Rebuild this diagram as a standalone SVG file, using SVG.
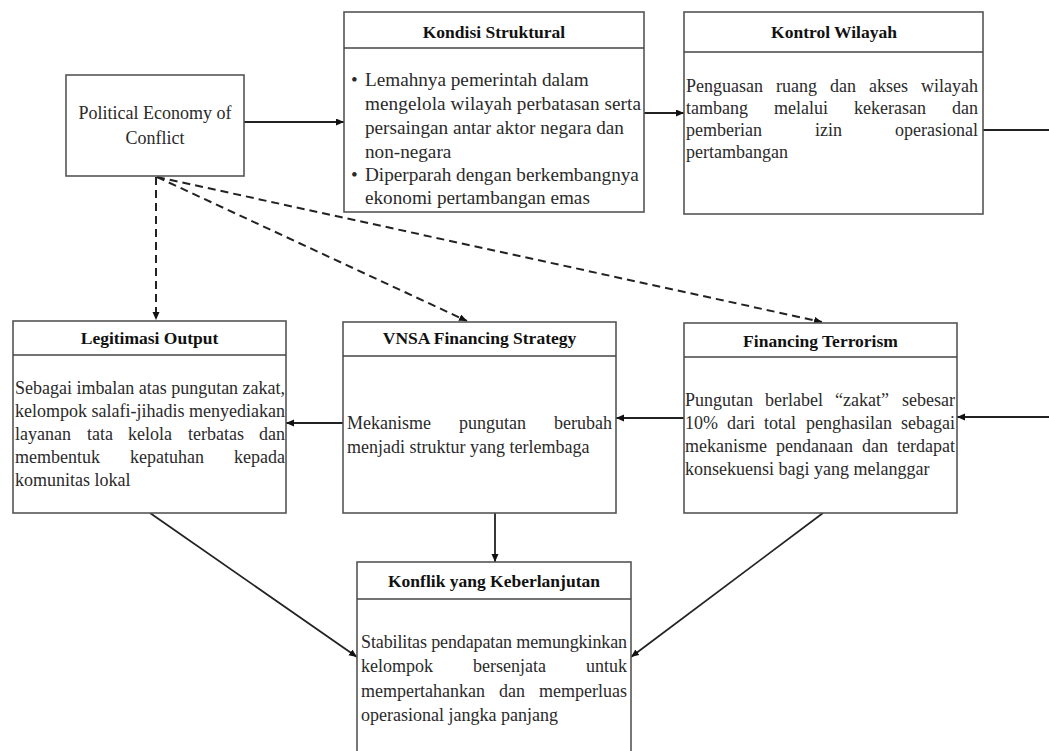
<svg xmlns="http://www.w3.org/2000/svg" width="1049" height="751" viewBox="0 0 1049 751">
<style>
.box{fill:#fff;stroke:#555;stroke-width:1.6}
.div{stroke:#444;stroke-width:1.6}
.t{font-family:"Liberation Serif","Times New Roman",serif;font-size:18px;fill:#2a2a2a}
.k{font-size:19.2px}
.h{font-family:"Liberation Serif","Times New Roman",serif;font-size:17.5px;font-weight:bold;fill:#111;text-anchor:middle}
.e{text-anchor:end}
.c{text-anchor:middle}
.ln{fill:none;stroke:#222;stroke-width:1.8}
.ds{fill:none;stroke:#222;stroke-width:2;stroke-dasharray:8 5}
</style>
<defs>
<marker id="ah" markerUnits="userSpaceOnUse" markerWidth="9" markerHeight="8" refX="8" refY="3.5" orient="auto">
<path d="M0,0 L8,3.5 L0,7 z" fill="#111"/>
</marker>
</defs>
<rect width="1049" height="751" fill="#fff"/>

<g id="connectors">
<line class="ln" x1="244" y1="122" x2="344" y2="122" marker-end="url(#ah)"/>
<line class="ln" x1="644" y1="113" x2="684" y2="113" marker-end="url(#ah)"/>
<line class="ln" x1="983" y1="130" x2="1049" y2="130"/>
<line class="ln" x1="1049" y1="417" x2="957" y2="417" marker-end="url(#ah)"/>
<line class="ln" x1="684" y1="418" x2="616" y2="418" marker-end="url(#ah)"/>
<line class="ln" x1="343" y1="423" x2="286" y2="423" marker-end="url(#ah)"/>
<line class="ln" x1="495" y1="513" x2="495" y2="562" marker-end="url(#ah)"/>
<line class="ln" x1="150" y1="513" x2="357" y2="657" marker-end="url(#ah)"/>
<line class="ln" x1="823" y1="513" x2="631" y2="657" marker-end="url(#ah)"/>
<line class="ds" x1="156" y1="177" x2="156" y2="320" marker-end="url(#ah)"/>
<line class="ds" x1="157" y1="177" x2="467" y2="321" marker-end="url(#ah)"/>
<line class="ds" x1="157" y1="177" x2="822" y2="322" marker-end="url(#ah)"/>
</g>

<g id="political-economy">
<rect class="box" x="66" y="75" width="178" height="101"/>
<text class="t c" x="155" y="119">Political Economy of</text>
<text class="t c" x="155" y="144">Conflict</text>
</g>

<g id="kondisi-struktural">
<rect class="box" x="344" y="12" width="300" height="200"/>
<line class="div" x1="344" y1="48" x2="644" y2="48"/>
<text class="h" x="494" y="38">Kondisi Struktural</text>
<text class="t k" x="351" y="86">•</text>
<text class="t k" x="365" y="86">Lemahnya pemerintah dalam</text>
<text class="t k" x="365" y="110" textLength="276" lengthAdjust="spacing">mengelola wilayah perbatasan serta</text>
<text class="t k" x="365" y="134">persaingan antar aktor negara dan</text>
<text class="t k" x="365" y="158">non-negara</text>
<text class="t k" x="351" y="181">•</text>
<text class="t k" x="365" y="181">Diperparah dengan berkembangnya</text>
<text class="t k" x="365" y="204">ekonomi pertambangan emas</text>
</g>

<g id="kontrol-wilayah">
<rect class="box" x="684" y="12" width="299" height="202"/>
<line class="div" x1="684" y1="52" x2="983" y2="52"/>
<text class="h" x="834" y="38">Kontrol Wilayah</text>
<text class="t" y="92"><tspan x="686">Penguasan</tspan><tspan x="776">ruang</tspan><tspan x="830">dan</tspan><tspan x="869">akses</tspan></text>
<text class="t e" x="978" y="92">wilayah</text>
<text class="t" y="114"><tspan x="686">tambang</tspan><tspan x="774">melalui</tspan><tspan x="854">kekerasan</tspan></text>
<text class="t e" x="978" y="114">dan</text>
<text class="t" y="136"><tspan x="686">pemberian</tspan><tspan x="815">izin</tspan></text>
<text class="t e" x="978" y="136">operasional</text>
<text class="t" x="686" y="158">pertambangan</text>
</g>

<g id="legitimasi-output">
<rect class="box" x="13" y="321" width="273" height="192"/>
<line class="div" x1="13" y1="355" x2="286" y2="355"/>
<text class="h" x="149.5" y="344">Legitimasi Output</text>
<text class="t" x="15" y="394" textLength="270" lengthAdjust="spacing">Sebagai imbalan atas pungutan zakat,</text>
<text class="t" x="15" y="417" textLength="270" lengthAdjust="spacing">kelompok salafi-jihadis menyediakan</text>
<text class="t" y="440"><tspan x="15">layanan</tspan><tspan x="87">tata</tspan><tspan x="128">kelola</tspan><tspan x="188">terbatas</tspan></text>
<text class="t e" x="285" y="440">dan</text>
<text class="t" y="463"><tspan x="15">membentuk</tspan><tspan x="130">kepatuhan</tspan></text>
<text class="t e" x="285" y="463">kepada</text>
<text class="t" x="15" y="486">komunitas lokal</text>
</g>

<g id="vnsa-financing-strategy">
<rect class="box" x="343" y="322" width="273" height="191"/>
<line class="div" x1="343" y1="356" x2="616" y2="356"/>
<text class="h" x="479.5" y="344">VNSA Financing Strategy</text>
<text class="t" y="429"><tspan x="347">Mekanisme</tspan><tspan x="459">pungutan</tspan></text>
<text class="t e" x="612" y="429">berubah</text>
<text class="t" x="347" y="453">menjadi struktur yang terlembaga</text>
</g>

<g id="financing-terrorism">
<rect class="box" x="684" y="323" width="273" height="190"/>
<line class="div" x1="684" y1="357" x2="957" y2="357"/>
<text class="h" x="820.5" y="347">Financing Terrorism</text>
<text class="t" y="406"><tspan x="685">Pungutan</tspan><tspan x="765">berlabel</tspan><tspan x="835">“zakat”</tspan></text>
<text class="t e" x="955" y="406">sebesar</text>
<text class="t" y="429"><tspan x="685">10%</tspan><tspan x="727">dari</tspan><tspan x="764">total</tspan><tspan x="806">penghasilan</tspan></text>
<text class="t e" x="955" y="429">sebagai</text>
<text class="t" y="452"><tspan x="685">mekanisme</tspan><tspan x="776">pendanaan</tspan><tspan x="862">dan</tspan></text>
<text class="t e" x="955" y="452">terdapat</text>
<text class="t" x="685" y="475">konsekuensi bagi yang melanggar</text>
</g>

<g id="konflik-keberlanjutan">
<rect class="box" x="357" y="562" width="274" height="220"/>
<line class="div" x1="357" y1="599" x2="631" y2="599"/>
<text class="h" x="494" y="587">Konflik yang Keberlanjutan</text>
<text class="t" x="361" y="648" textLength="266" lengthAdjust="spacing">Stabilitas pendapatan memungkinkan</text>
<text class="t" y="672"><tspan x="361">kelompok</tspan><tspan x="473">bersenjata</tspan></text>
<text class="t e" x="627" y="672">untuk</text>
<text class="t" y="697"><tspan x="361">mempertahankan</tspan><tspan x="499">dan</tspan></text>
<text class="t e" x="627" y="697">memperluas</text>
<text class="t" x="361" y="721">operasional jangka panjang</text>
</g>
</svg>
